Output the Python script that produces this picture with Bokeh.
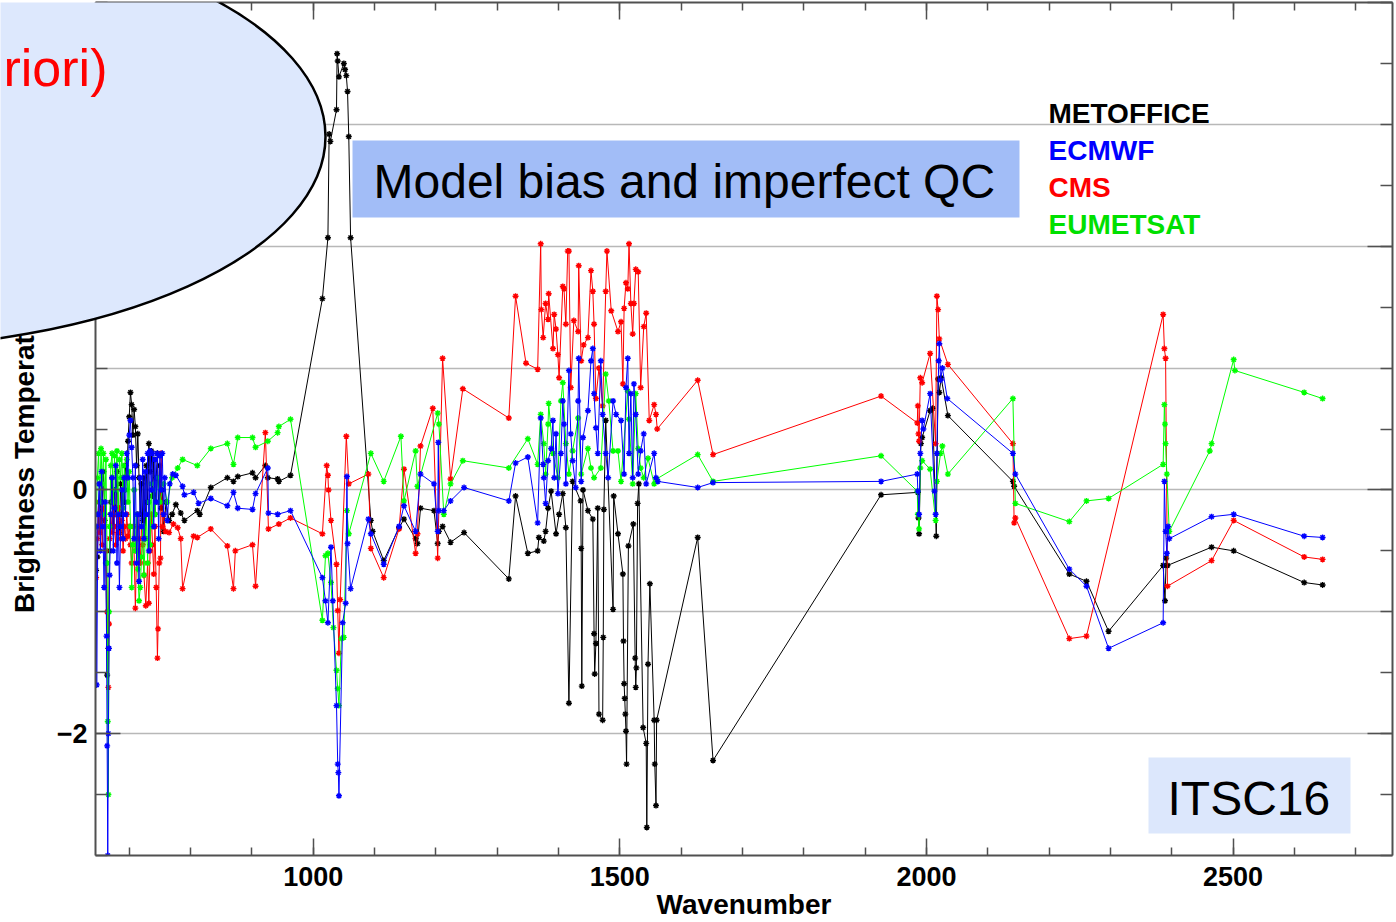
import numpy as np
from bokeh.plotting import figure
from bokeh.layouts import row
from bokeh.models import (Range1d, LinearAxis, SingleIntervalTicker, FixedTicker,
                          Label, ColumnDataSource)
from bokeh.core.properties import value
from bokeh.embed import file_html
from bokeh.resources import INLINE

# ---- mean brightness-temperature departures per IASI channel, by centre ----
metoffice_wn = [646, 648, 650, 652, 654, 656, 658, 660, 662, 664, 666, 668, 670, 672, 674, 676, 678, 680,
                682, 684, 686, 688, 690, 692, 694, 696, 698, 700, 702, 704, 706, 708, 710, 712, 714, 716,
                718, 720, 722, 724, 726, 728, 730, 732, 734, 736, 738, 740, 742, 744, 746, 748, 750, 752,
                754, 756, 760, 765, 770, 776, 784, 790, 811, 815, 833, 860, 870, 877, 901, 906, 922, 926,
                942, 944, 963, 1015, 1024, 1026, 1028, 1038, 1039, 1040, 1042, 1050, 1052, 1054, 1056,
                1058, 1061, 1094, 1097, 1115, 1140, 1148, 1167, 1170, 1175, 1197, 1203, 1205, 1211, 1224,
                1246, 1319, 1330, 1350, 1366, 1368, 1376, 1379, 1383, 1388, 1396, 1401, 1407, 1412, 1417,
                1423, 1436, 1437, 1438, 1440, 1448, 1456, 1458, 1459, 1461, 1464, 1466, 1472, 1473, 1474,
                1477, 1489, 1490, 1497, 1505, 1506, 1507, 1508, 1509, 1510, 1511, 1514, 1522, 1525, 1526,
                1527, 1529, 1531, 1538, 1543, 1544, 1546, 1549, 1556, 1557, 1559, 1560, 1627, 1652, 1926,
                1986, 1987, 1988, 1991, 1993, 2006, 2010, 2016, 2019, 2021, 2024, 2035, 2141, 2143, 2233,
                2261, 2297, 2386, 2389, 2391, 2393, 2465, 2501, 2616, 2646]
metoffice_dbt = [-0.66, -0.55, -0.20, 0.05, -0.30, -0.10, 0.15, -0.25, -0.60, -1.52, -1.30, -0.50, -0.10,
                 0.10, -0.30, 0.00, -0.20, 0.15, -0.15, -0.35, 0.05, -0.20, 0.10, -0.10, 0.20, 0.10, 0.40,
                 0.60, 0.80, 0.70, 0.45, 0.66, 0.52, 0.20, 0.46, 0.10, -0.20, 0.05, -0.25, 0.10, -0.40,
                 0.20, -0.10, 0.38, 0.15, 0.32, -0.05, 0.25, -0.20, 0.10, 0.30, -0.10, 0.20, -0.15, 0.00,
                 -0.34, -0.10, -0.25, -0.20, -0.12, -0.19, -0.25, -0.17, -0.20, 0.02, 0.10, 0.07, 0.11,
                 0.14, 0.10, 0.20, 0.10, 0.09, 0.07, 0.12, 1.57, 2.07, 2.92, 2.86, 3.12, 3.58, 3.52, 3.39,
                 3.50, 3.45, 3.40, 3.27, 2.90, 2.07, -0.25, -0.34, -0.58, -0.31, -0.24, -0.40, -0.44,
                 -0.15, -0.17, -0.44, -0.34, -0.30, -0.43, -0.35, -0.73, -0.05, -0.52, -0.50, -0.39,
                 -0.42, -0.34, -0.15, -0.01, -0.36, -0.20, -0.03, -0.31, -1.75, 0.07, -0.09, -0.48, -1.61,
                 0.00, -0.17, -0.24, -1.18, -1.51, -1.26, -0.15, -1.84, -1.89, -1.21, -0.16, 0.57, -0.98,
                 -0.05, -0.36, -0.69, -1.24, -1.59, -1.71, -1.84, -1.98, -2.25, -0.46, -0.28, -1.38,
                 -1.62, -1.46, -0.11, 0.05, -1.95, -2.08, -2.77, -1.43, -0.77, -1.89, -2.25, -2.59,
                 -1.89, -0.39, -2.22, -0.04, -0.02, -0.23, -0.36, 0.38, 0.43, 0.65, 0.67, -0.38, 0.91,
                 0.80, 0.92, 0.61, 0.07, 0.03, -0.69, -0.75, -1.16, -0.62, -0.91, -0.56, -0.62, -0.47,
                 -0.50, -0.76, -0.78]

ecmwf_wn = [646, 647, 649, 651, 653, 655, 657, 659, 661, 663, 664, 665, 666, 667, 668, 670, 672, 674, 676,
            678, 680, 682, 684, 686, 688, 690, 692, 694, 696, 698, 700, 702, 704, 706, 708, 710, 712, 714,
            716, 718, 720, 722, 724, 726, 728, 730, 732, 734, 736, 738, 740, 742, 744, 746, 748, 750, 752,
            754, 756, 758, 762, 766, 771, 776, 787, 790, 805, 813, 833, 860, 870, 877, 901, 906, 926, 927,
            942, 963, 1015, 1020, 1024, 1029, 1032, 1038, 1040, 1041, 1042, 1048, 1053, 1055, 1056, 1061,
            1090, 1094, 1115, 1140, 1148, 1167, 1175, 1197, 1203, 1204, 1205, 1213, 1224, 1246, 1319,
            1330, 1350, 1366, 1371, 1375, 1376, 1379, 1383, 1388, 1391, 1393, 1396, 1399, 1404, 1407,
            1409, 1412, 1417, 1420, 1423, 1428, 1432, 1433, 1437, 1440, 1448, 1453, 1456, 1458, 1461,
            1464, 1469, 1472, 1477, 1481, 1489, 1494, 1502, 1507, 1510, 1513, 1515, 1518, 1521, 1523,
            1526, 1530, 1534, 1539, 1543, 1556, 1559, 1562, 1627, 1652, 1926, 1985, 1986, 1988, 1990,
            1993, 1995, 2006, 2013, 2015, 2017, 2020, 2021, 2023, 2026, 2034, 2141, 2145, 2233, 2261,
            2297, 2386, 2388, 2390, 2392, 2394, 2396, 2465, 2501, 2616, 2646]
ecmwf_dbt = [-0.30, -1.60, -0.20, 0.05, -0.50, 0.15, -0.30, -0.80, -0.10, -1.20, -2.10, -3.00, -2.00, -1.30,
             -0.70, -0.20, 0.10, -0.50, -0.15, 0.20, -0.60, -0.20, -0.80, -0.30, 0.00, -0.40, 0.10, -0.20,
             0.30, 0.10, 0.45, 0.57, 0.35, 0.10, -0.40, 0.20, -0.60, -0.20, -0.75, 0.10, -0.30, 0.25,
             -0.40, 0.15, -0.20, 0.30, -0.50, 0.32, 0.00, 0.30, -0.30, 0.25, -0.10, 0.30, -0.40, 0.28,
             0.00, 0.30, -0.20, 0.10, -0.25, 0.05, 0.13, 0.12, 0.03, -0.04, -0.02, -0.11, -0.07, -0.13,
             -0.02, -0.15, -0.16, -0.03, 0.18, -0.19, -0.20, -0.17, -0.72, -0.91, -1.09, -0.47, -0.91,
             -1.77, -2.25, -2.32, -2.51, -1.09, -0.93, 0.11, -0.44, -0.81, -0.24, -0.36, -0.61, -0.30,
             -0.13, -0.34, 0.13, 0.05, -0.34, 0.39, -0.17, -0.17, -0.09, 0.02, -0.09, 0.22, 0.27, -0.27,
             0.59, 0.21, 0.10, -0.11, 0.24, 0.34, 0.57, 0.10, 0.46, -0.03, 0.30, 0.73, 0.54, 0.05, 0.98,
             0.46, 0.24, 0.02, 0.73, 1.08, 0.07, 0.43, 0.65, 1.06, 1.16, 0.79, 0.51, 0.30, 1.06, 0.62,
             0.30, 0.10, 0.73, 0.62, 0.57, 0.13, 0.84, 1.08, 0.30, 0.79, 0.10, 0.87, 0.62, 0.13, 0.32,
             0.46, 0.05, 0.30, 0.10, 0.07, 0.02, 0.06, 0.07, 0.13, -0.01, -0.20, 0.30, 0.57, 0.50, 0.79,
             -0.01, -0.20, 0.30, 1.06, 1.20, 0.90, 1.00, 0.75, 0.30, 0.13, -0.65, -0.79, -1.30, -1.09,
             0.07, -0.34, -0.52, -0.30, -0.40, -0.22, -0.20, -0.38, -0.39]

cms_wn = [646, 648, 650, 652, 654, 656, 658, 660, 662, 664, 666, 667, 668, 670, 672, 674, 676, 678, 680,
          682, 684, 686, 688, 690, 692, 694, 696, 698, 700, 702, 704, 707, 710, 712, 714, 716, 718, 720,
          722, 724, 727, 730, 732, 734, 736, 738, 740, 742, 744, 746, 747, 749, 751, 752, 754, 756, 759,
          765, 772, 779, 784, 787, 805, 811, 833, 860, 870, 873, 901, 906, 922, 927, 944, 963, 1015,
          1022, 1024, 1025, 1029, 1038, 1040, 1042, 1044, 1054, 1058, 1090, 1094, 1115, 1140, 1148,
          1167, 1170, 1175, 1195, 1203, 1211, 1224, 1244, 1319, 1330, 1347, 1366, 1371, 1372, 1375,
          1379, 1383, 1384, 1391, 1393, 1396, 1399, 1401, 1407, 1409, 1412, 1415, 1417, 1420, 1425,
          1432, 1433, 1437, 1441, 1448, 1453, 1456, 1458, 1461, 1466, 1472, 1477, 1479, 1486, 1497,
          1502, 1505, 1507, 1510, 1513, 1515, 1518, 1521, 1523, 1526, 1530, 1534, 1539, 1543, 1548,
          1556, 1559, 1561, 1627, 1652, 1926, 1985, 1986, 1987, 1988, 1990, 1993, 2006, 2015, 2017,
          2019, 2021, 2035, 2141, 2143, 2145, 2233, 2261, 2386, 2388, 2390, 2393, 2465, 2501, 2616, 2646]
cms_dbt = [-0.72, -0.40, -0.10, -0.35, -0.20, -0.45, -0.15, -0.30, -0.50, -1.00, -1.62, -1.10, -0.40,
           -0.20, -0.35, -0.10, -0.30, -0.45, -0.20, -0.35, -0.15, -0.40, -0.25, -0.50, -0.30, -0.40,
           -0.20, -0.38, -0.30, -0.45, -0.60, -0.30, -0.97, -0.50, -0.20, -0.40, -0.60, -0.30, -0.45,
           -0.70, -0.95, -0.60, -0.93, -0.50, -0.20, -0.45, -0.69, -0.30, -0.80, -1.38, -1.14, -0.60,
           -0.56, 0.30, -0.30, -0.20, -0.34, -0.35, -0.28, -0.31, -0.40, -0.81, -0.38, -0.39, -0.32,
           -0.46, -0.81, -0.50, -0.45, -0.79, 0.47, -0.32, -0.28, -0.23, -0.36, 0.20, 0.12, 0.00,
           -0.25, -0.61, -0.99, -1.34, -0.90, 0.44, 0.05, 0.13, -0.48, -0.72, -0.32, 0.17, -0.52,
           -0.36, 0.36, 0.67, -0.56, 1.08, 0.09, 0.83, 0.59, 1.59, 1.04, 0.99, 2.02, 1.48, 1.25, 1.53,
           1.40, 1.61, 1.16, 1.44, 1.32, 1.11, 0.92, 1.67, 1.65, 1.36, 1.96, 1.96, 0.84, 1.39, 1.30,
           1.84, 1.06, 1.19, 1.25, 1.80, 1.63, 1.36, 0.75, 1.00, 0.69, 1.63, 1.96, 1.47, 1.30, 1.38,
           0.87, 1.49, 1.70, 1.65, 2.02, 1.53, 1.28, 1.53, 1.81, 1.79, 0.84, 1.34, 1.45, 0.57, 0.70,
           0.62, 0.50, 0.90, 0.29, 0.77, 0.55, 0.69, 0.46, 0.40, 0.92, 0.88, 1.12, 0.38, 1.59, 1.48,
           1.24, 1.03, 0.38, -0.27, -0.23, -1.22, -1.20, 1.44, 1.16, 1.08, -0.79, -0.58, -0.25, -0.55,
           -0.57]

eumetsat_wn = [646, 648, 650, 652, 654, 656, 658, 660, 662, 664, 665, 666, 667, 668, 670, 672, 674, 676,
               678, 680, 682, 684, 686, 688, 690, 692, 694, 696, 698, 700, 702, 704, 706, 708, 710, 712,
               714, 716, 718, 720, 722, 724, 726, 728, 730, 732, 734, 736, 738, 740, 742, 746, 750, 756,
               762, 770, 779, 787, 811, 833, 860, 870, 877, 901, 906, 926, 942, 944, 963, 1015, 1020,
               1024, 1029, 1033, 1038, 1040, 1042, 1046, 1050, 1055, 1058, 1094, 1115, 1143, 1148, 1167,
               1170, 1203, 1205, 1213, 1224, 1244, 1319, 1350, 1366, 1371, 1376, 1379, 1383, 1384, 1391,
               1399, 1404, 1407, 1412, 1417, 1423, 1432, 1437, 1448, 1453, 1458, 1469, 1477, 1482, 1489,
               1497, 1502, 1513, 1515, 1521, 1526, 1530, 1534, 1539, 1546, 1556, 1560, 1627, 1652, 1926,
               1985, 1986, 1988, 1990, 1993, 2006, 2015, 2017, 2023, 2026, 2035, 2141, 2145, 2233, 2261,
               2297, 2386, 2388, 2389, 2390, 2392, 2396, 2462, 2465, 2501, 2503, 2616, 2646]
eumetsat_dbt = [-0.20, 0.10, 0.30, -0.10, 0.34, 0.05, 0.30, -0.20, 0.25, -0.60, -1.90, -2.50, -1.00, -0.30,
                0.20, 0.30, -0.10, 0.28, 0.00, 0.32, -0.20, 0.25, 0.10, 0.30, -0.15, 0.20, 0.00, 0.25,
                -0.10, 0.15, -0.30, -0.80, -0.45, 0.00, -0.50, -0.20, -0.65, -0.91, -0.80, -0.55, -0.30,
                -0.70, -0.40, -0.20, -0.60, -0.10, -0.45, 0.05, -0.30, 0.00, -0.20, 0.10, -0.10, 0.05,
                -0.10, 0.10, 0.18, 0.25, 0.20, 0.34, 0.38, 0.21, 0.43, 0.43, 0.35, 0.40, 0.47, 0.52, 0.58,
                -1.07, -0.54, -0.52, -0.76, -1.13, -1.48, -1.63, -1.77, -1.22, -1.21, -0.17, -0.36, 0.30,
                0.07, 0.44, -0.09, 0.32, 0.03, 0.63, 0.54, -0.20, 0.05, 0.24, 0.18, 0.42, 0.21, 0.62, 0.38,
                0.13, 0.54, 0.71, 0.30, 0.10, 0.73, 0.88, 0.38, 0.13, 0.32, 0.59, 0.13, 0.34, 0.18, 0.10,
                0.18, 0.95, 0.73, 0.32, 0.32, 0.07, 0.81, 0.58, 0.05, 0.79, 0.34, 0.18, 0.10, 0.26, 0.05,
                0.09, 0.29, 0.07, 0.28, -0.01, -0.20, -0.32, 0.18, 0.24, 0.17, -0.25, 0.07, 0.30, 0.36,
                0.13, 0.75, -0.11, -0.26, -0.09, -0.07, 0.21, 0.70, 0.54, 0.38, 0.13, -0.34, 0.32, 0.38,
                1.07, 0.98, 0.80, 0.75]

centre_names = ["METOFFICE", "ECMWF", "CMS", "EUMETSAT"]
centre_colors = ["#000000", "#0000ff", "#ff0000", "#00ff00"]
legend_colors = ["#000000", "#0000ff", "#ff0000", "#00e000"]

x_major_step = 500
y_major_labels = [-2, 0, 2]
y_minor = [v / 2 for v in range(-6, 9)]
grid_levels = [-3, -2, -1, 0, 1, 2, 3, 4]

# ---- canvas and frame geometry (pixels) ----
W, H = 1396, 922
FL, FR, FT, FB = 95, 1392, 2, 855
X0, X1, Y0, Y1 = 645, 2760, -3, 4
BASE_SHIFT = 0.355  # svg text lands this many ems below the requested alphabetic baseline


def sx(px):
    """canvas pixel column -> wavenumber"""
    return X0 + (px - FL) * (X1 - X0) / (FR - FL)


def sy(py):
    """canvas pixel row -> brightness temperature"""
    return Y1 - (py - FT) * (Y1 - Y0) / (FB - FT)


p = figure(width=W, height=H, x_range=Range1d(X0, X1), y_range=Range1d(Y0, Y1),
           output_backend="svg", toolbar_location=None,
           min_border_left=FL, min_border_right=W - FR, min_border_top=FT, min_border_bottom=H - FB,
           x_axis_label="Wavenumber", y_axis_label="Brightness Temperature (K)")
p.background_fill_color = "white"
p.border_fill_color = "white"
p.outline_line_color = None

xt = SingleIntervalTicker(interval=x_major_step, num_minor_ticks=5)
yt_left = FixedTicker(ticks=y_major_labels, minor_ticks=y_minor)
yt_right = SingleIntervalTicker(interval=2, num_minor_ticks=4)

AX_COLOR = "#505050"
FONT = "Liberation Sans"


def style_axis(ax, major_in, minor_in):
    ax.axis_line_color = AX_COLOR
    ax.axis_line_width = 2
    ax.major_tick_line_color = AX_COLOR
    ax.major_tick_line_width = 1.5
    ax.minor_tick_line_color = AX_COLOR
    ax.minor_tick_line_width = 1.5
    ax.major_tick_in = major_in
    ax.major_tick_out = 0
    ax.minor_tick_in = minor_in
    ax.minor_tick_out = 0
    ax.major_label_text_font = FONT
    ax.major_label_text_font_style = "bold"
    ax.major_label_text_color = "black"
    ax.axis_label_text_font = FONT
    ax.axis_label_text_font_style = "bold"
    ax.axis_label_text_font_size = "28px"
    ax.axis_label_text_color = "black"


xa = p.xaxis[0]
xa.ticker = xt
style_axis(xa, 17, 8)
xa.major_label_text_font_size = "27px"
xa.major_label_standoff = 11
xa.axis_label_standoff = 0

ya = p.yaxis[0]
ya.ticker = yt_left
style_axis(ya, 25, 12)
ya.major_label_text_font_size = "27px"
ya.major_label_standoff = 8
ya.axis_label_standoff = 14
ya.major_label_overrides = {-2: "\u22122"}

# mirrored tick-only axes on the top and right edges
top = LinearAxis(ticker=xt)
style_axis(top, 17, 8)
top.major_label_text_font_size = "1px"
top.major_label_text_color = None
top.major_label_standoff = 0
p.add_layout(top, "above")

right = LinearAxis(ticker=yt_right)
style_axis(right, 25, 12)
right.major_label_text_font_size = "1px"
right.major_label_text_color = None
right.major_label_standoff = 0
p.add_layout(right, "right")

p.xgrid.visible = False
p.ygrid.ticker = FixedTicker(ticks=grid_levels)
p.ygrid.grid_line_color = "#b8b8b8"
p.ygrid.grid_line_width = 1.5

# ---- the four centres ----
series = {
    "METOFFICE": (metoffice_wn, metoffice_dbt),
    "CMS": (cms_wn, cms_dbt),
    "EUMETSAT": (eumetsat_wn, eumetsat_dbt),
    "ECMWF": (ecmwf_wn, ecmwf_dbt),
}
color_of = dict(zip(centre_names, centre_colors))
for name, (wn, dbt) in series.items():
    src = ColumnDataSource(dict(wn=wn, dbt=dbt))
    c = color_of[name]
    p.line("wn", "dbt", source=src, line_color=c, line_width=1)
    p.scatter("wn", "dbt", source=src, marker="asterisk", size=6, line_color=c, line_width=1.4)

# ---- legend as coloured centre names ----
for i, (name, col) in enumerate(zip(centre_names, legend_colors)):
    p.add_layout(Label(x=sx(1048), y=sy(123 + 37 * i - BASE_SHIFT * 28), text=name, text_color=col,
                       text_font=FONT, text_font_style="bold", text_font_size="28px",
                       text_align="left", text_baseline="alphabetic"))

# ---- transparent overlay sheet (pixel coordinates, y down) for the call-outs ----
# placed beside the chart in a row and pulled back over it with a negative margin
ov = figure(width=W, height=H, x_range=Range1d(0, W), y_range=Range1d(FB, FT),
            x_axis_location=None, y_axis_location=None, toolbar_location=None,
            output_backend="svg", min_border_left=0, min_border_right=0,
            min_border_top=FT, min_border_bottom=H - FB, margin=(0, 0, 0, -W))
ov.grid.visible = False
ov.background_fill_color = None
ov.border_fill_color = None
ov.outline_line_color = None

ov.quad(left=[352], right=[1019], top=[140], bottom=[217], fill_color="#a2bdf7", line_color=None)
ov.text(x=[373], y=[198 - BASE_SHIFT * 48], text=["Model bias and imperfect QC"], text_color="black",
        text_font=value(FONT), text_font_size=value("48px"), text_align="left",
        text_baseline="alphabetic")

ov.quad(left=[1148], right=[1350], top=[757], bottom=[833], fill_color="#dce7fc", line_color=None)
ov.text(x=[1167], y=[815 - BASE_SHIFT * 48], text=["ITSC16"], text_color="black",
        text_font=value(FONT), text_font_size=value("48px"), text_align="left",
        text_baseline="alphabetic")

ov.ellipse(x=[-145], y=[136], width=[940], height=[424], fill_color="#dde8fd",
           line_color="black", line_width=2.5)
ov.text(x=[3], y=[86 - BASE_SHIFT * 52], text=["riori)"], text_color="#ff0000",
        text_font=value(FONT), text_font_size=value("52px"), text_align="left",
        text_baseline="alphabetic")

layout = row(p, ov, spacing=0)
open("out.html", "w").write(file_html(layout, INLINE))
